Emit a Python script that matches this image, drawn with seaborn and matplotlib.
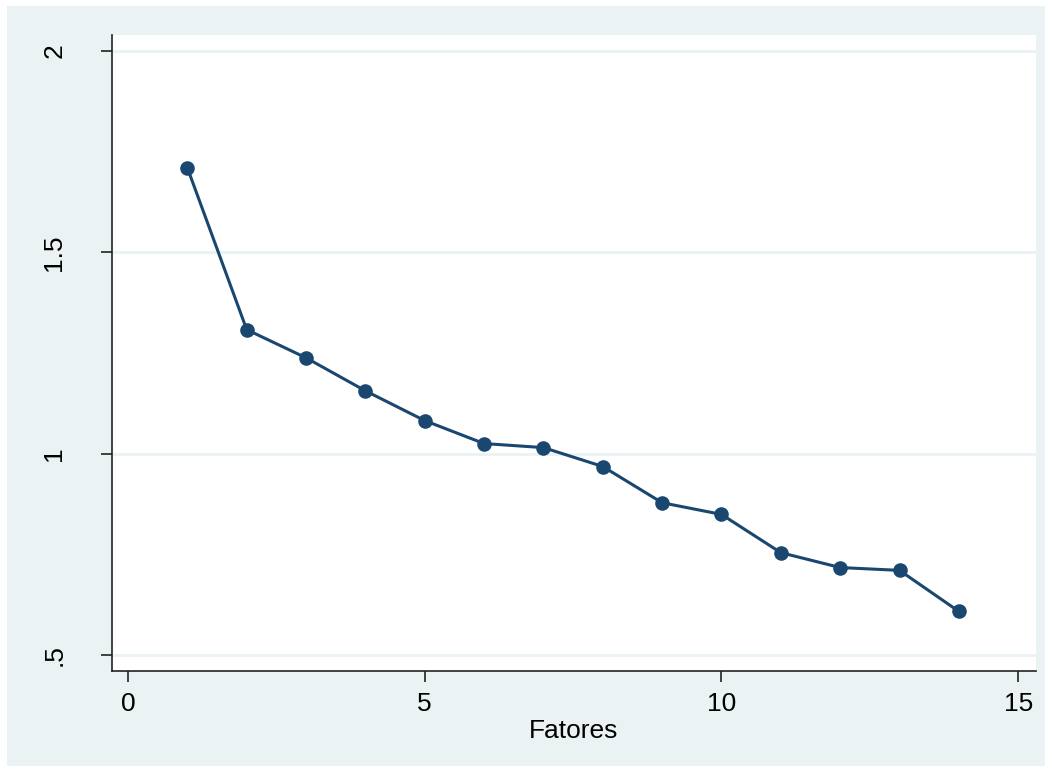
import matplotlib
matplotlib.use("Agg")
import matplotlib.pyplot as plt
import matplotlib.patches as mpatches
import seaborn as sns
import pandas as pd

# Eigenvalues per factor (scree plot)
fatores = [1, 2, 3, 4, 5, 6, 7, 8, 9, 10, 11, 12, 13, 14]
autovalores = [1.710, 1.308, 1.238, 1.156, 1.082, 1.025, 1.015, 0.968,
               0.878, 0.849, 0.754, 0.717, 0.710, 0.608]

x_ticks = [0, 5, 10, 15]
x_tick_labels = ["0", "5", "10", "15"]
y_ticks = [0.5, 1.0, 1.5, 2.0]
y_tick_labels = [".5", "1", "1.5", "2"]

df = pd.DataFrame({"Fatores": fatores, "Autovalor": autovalores})

sns.set_style("white")
plt.rcParams["font.family"] = ["Liberation Sans", "DejaVu Sans"]
plt.rcParams["text.color"] = "black"
plt.rcParams["axes.labelcolor"] = "black"
plt.rcParams["xtick.labelcolor"] = "black"
plt.rcParams["ytick.labelcolor"] = "black"

navy = "#1a476f"
bg = "#eaf2f3"

W, H = 1052, 772
fig = plt.figure(figsize=(W / 100, H / 100), dpi=100)
fig.patch.set_facecolor("white")
fig.patches.append(mpatches.Rectangle((7 / W, 6 / H), (1045 - 7) / W, (766 - 6) / H,
                                      transform=fig.transFigure, facecolor=bg,
                                      edgecolor="none", zorder=-10))

ax = fig.add_axes([112 / W, 1 - 671 / H, (1036 - 112) / W, (671 - 35) / H])
ax.set_zorder(1)
ax.set_facecolor("white")

sns.lineplot(data=df, x="Fatores", y="Autovalor", ax=ax, color=navy,
             linewidth=2.2, marker="o", markersize=10.5, markeredgewidth=0,
             zorder=3)

ax.set_xlim(-0.27, 15.30)
ax.set_ylim(0.46, 2.04)
ax.set_xticks(x_ticks)
ax.set_xticklabels(x_tick_labels)
ax.set_yticks(y_ticks)
ax.set_yticklabels(y_tick_labels, rotation=90, va="center")

for y in y_ticks:
    ax.axhline(y, color=bg, linewidth=2, zorder=1)

for side in ["top", "right"]:
    ax.spines[side].set_visible(False)
for side in ["left", "bottom"]:
    ax.spines[side].set_color("#222222")
    ax.spines[side].set_linewidth(1.2)

ax.tick_params(axis="both", direction="out", length=8, width=1.2,
               color="#222222", labelsize=19, labelcolor="black")
ax.tick_params(axis="x", bottom=True, pad=7)
ax.tick_params(axis="y", left=True, pad=25)

ax.set_xlabel("Fatores", fontsize=19, labelpad=2, color="black")
ax.set_ylabel("")

fig.savefig("out.png", dpi=100)
